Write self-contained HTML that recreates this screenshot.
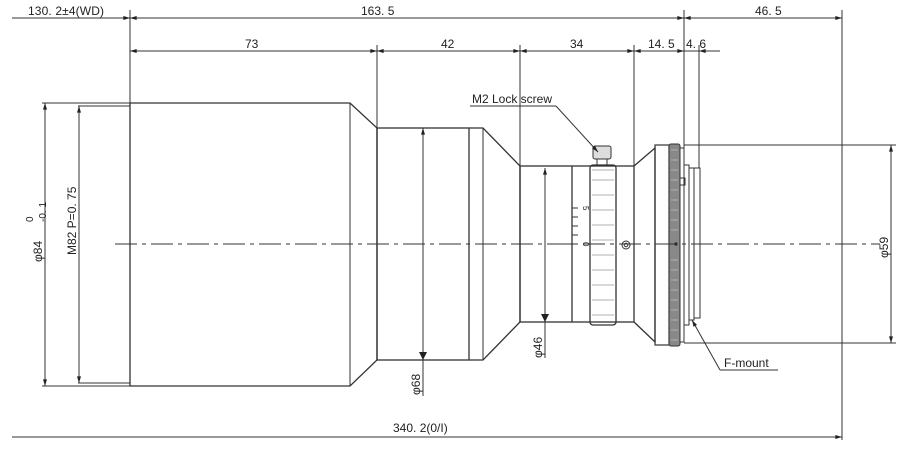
<!DOCTYPE html>
<html><head><meta charset="utf-8"><style>
html,body{margin:0;padding:0;background:#fff}
svg{display:block}
text{font-family:"Liberation Sans","Noto Sans CJK JP",sans-serif;font-size:12px;fill:#222}
</style></head><body>
<svg width="900" height="452" viewBox="0 0 900 452" xmlns="http://www.w3.org/2000/svg">
<defs>
<marker id="a" viewBox="0 0 10 6" refX="10" refY="3" markerWidth="10" markerHeight="4" orient="auto-start-reverse" markerUnits="userSpaceOnUse"><path d="M0,0L10,3L0,6z" fill="#222"/></marker>
</defs>
<g stroke="#333" stroke-width="1" fill="none">
<!-- extension lines -->
<line x1="130" y1="10" x2="130" y2="103"/>
<line x1="684" y1="10" x2="684" y2="150"/>
<line x1="842" y1="10" x2="842" y2="440"/>
<line x1="377" y1="45" x2="377" y2="128"/>
<line x1="520" y1="45" x2="520" y2="166"/>
<line x1="634" y1="45" x2="634" y2="166"/>
<line x1="699" y1="45" x2="699" y2="168"/>
<!-- top dim -->
<line x1="12" y1="18" x2="130" y2="18" marker-end="url(#a)"/>
<line x1="130" y1="18" x2="684" y2="18" marker-start="url(#a)" marker-end="url(#a)"/>
<line x1="684" y1="18" x2="842" y2="18" marker-start="url(#a)" marker-end="url(#a)"/>
<line x1="130" y1="51" x2="377" y2="51" marker-start="url(#a)" marker-end="url(#a)"/>
<line x1="377" y1="51" x2="520" y2="51" marker-start="url(#a)" marker-end="url(#a)"/>
<line x1="520" y1="51" x2="634" y2="51" marker-start="url(#a)" marker-end="url(#a)"/>
<line x1="634" y1="51" x2="684" y2="51" marker-start="url(#a)" marker-end="url(#a)"/>
<line x1="699" y1="51" x2="720" y2="51" marker-start="url(#a)"/>
<line x1="684" y1="51" x2="699" y2="51"/>
<!-- left dims -->
<line x1="42" y1="103" x2="130" y2="103"/>
<line x1="42" y1="386" x2="130" y2="386"/>
<line x1="78" y1="106" x2="130" y2="106"/>
<line x1="78" y1="383" x2="130" y2="383"/>
<line x1="45" y1="103" x2="45" y2="386" marker-start="url(#a)" marker-end="url(#a)"/>
<line x1="79" y1="106" x2="79" y2="383" marker-start="url(#a)" marker-end="url(#a)"/>
<!-- body -->
<path d="M130,103H350L377,128V360L350,386H130Z" stroke-width="1.3"/>
<line x1="350" y1="103" x2="350" y2="386"/>
<rect x="377" y="128" width="92" height="232" stroke-width="1.3"/>
<line x1="469" y1="128" x2="469" y2="360"/>
<path d="M469,128H483L520,166V322L483,360H469" stroke-width="1.3"/>
<line x1="483" y1="128" x2="483" y2="360"/>
<rect x="520" y="166" width="114" height="156" stroke-width="1.3"/>
<line x1="572" y1="166" x2="572" y2="322" stroke-width="1.3"/>
<rect x="590" y="165" width="26" height="160" rx="3" stroke-width="1.3"/>
<g stroke="#999" stroke-width="0.8">
<line x1="592" y1="170" x2="614" y2="170"/><line x1="592" y1="180" x2="614" y2="180"/><line x1="592" y1="195" x2="614" y2="195"/><line x1="592" y1="210" x2="614" y2="210"/><line x1="592" y1="225" x2="614" y2="225"/><line x1="592" y1="240" x2="614" y2="240"/><line x1="592" y1="255" x2="614" y2="255"/><line x1="592" y1="270" x2="614" y2="270"/><line x1="592" y1="285" x2="614" y2="285"/><line x1="592" y1="300" x2="614" y2="300"/><line x1="592" y1="315" x2="614" y2="315"/>
</g>
<!-- scale -->
<g stroke-width="1"><line x1="572" y1="208" x2="578" y2="208"/><line x1="572" y1="217" x2="578" y2="217"/><line x1="572" y1="226" x2="578" y2="226"/><line x1="572" y1="235" x2="578" y2="235"/><line x1="568" y1="244" x2="578" y2="244"/></g>
<!-- screw -->
<rect x="593" y="146" width="18" height="13" rx="2" fill="#ddd"/>
<line x1="597" y1="159" x2="597" y2="165"/><line x1="607" y1="159" x2="607" y2="165"/>
<circle cx="626" cy="245" r="4"/><circle cx="626" cy="245" r="1.8"/>
<!-- rear -->
<path d="M634,166L655,148V342L634,322" stroke-width="1.3"/>
<rect x="655" y="145" width="14" height="200" stroke-width="1.2"/>
<rect x="669" y="144" width="11" height="202" rx="2" fill="#888" stroke="#333"/>
<g stroke="#ccc" stroke-width="0.6">
<line x1="671" y1="150" x2="678" y2="150"/><line x1="671" y1="160" x2="678" y2="160"/><line x1="671" y1="170" x2="678" y2="170"/><line x1="671" y1="180" x2="678" y2="180"/><line x1="671" y1="190" x2="678" y2="190"/><line x1="671" y1="200" x2="678" y2="200"/><line x1="671" y1="210" x2="678" y2="210"/><line x1="671" y1="220" x2="678" y2="220"/><line x1="671" y1="230" x2="678" y2="230"/><line x1="671" y1="260" x2="678" y2="260"/><line x1="671" y1="270" x2="678" y2="270"/><line x1="671" y1="280" x2="678" y2="280"/><line x1="671" y1="290" x2="678" y2="290"/><line x1="671" y1="300" x2="678" y2="300"/><line x1="671" y1="310" x2="678" y2="310"/><line x1="671" y1="320" x2="678" y2="320"/><line x1="671" y1="330" x2="678" y2="330"/><line x1="671" y1="340" x2="678" y2="340"/>
</g>
<rect x="680" y="148" width="4" height="194"/>
<rect x="684" y="165" width="5" height="160"/>
<rect x="680" y="178" width="5" height="7"/>
<rect x="689" y="168" width="5" height="152"/>
<rect x="694" y="168" width="6" height="150"/>
<circle cx="676" cy="244" r="1.2" fill="#000"/>
<!-- right dim -->
<line x1="684" y1="145" x2="896" y2="145"/>
<line x1="684" y1="343" x2="896" y2="343"/>
<line x1="891" y1="145" x2="891" y2="343" marker-start="url(#a)" marker-end="url(#a)"/>
<!-- inner dims -->
<line x1="423" y1="128" x2="423" y2="396" marker-start="url(#a)"/>
<line x1="423" y1="360" x2="423" y2="360"/>
<path d="M419,352L423,360L427,352" fill="#222" stroke="none"/>
<line x1="545" y1="168" x2="545" y2="358" marker-start="url(#a)"/>
<path d="M541,314L545,322L549,314" fill="#222" stroke="none"/>
<!-- bottom dim -->
<line x1="12" y1="437" x2="842" y2="437" marker-end="url(#a)"/>
<!-- leaders -->
<line x1="470" y1="106" x2="556" y2="106"/>
<line x1="556" y1="106" x2="598" y2="152" marker-end="url(#a)"/>
<line x1="778" y1="370" x2="720" y2="370"/>
<line x1="720" y1="370" x2="692" y2="320" marker-end="url(#a)"/>
<!-- centerline -->
<line x1="115" y1="244" x2="880" y2="244" stroke-dasharray="22,5,4,5" stroke-width="0.9"/>
</g>
<text x="28" y="15" textLength="76">130. 2±4(WD)</text>
<text x="361" y="15">163. 5</text>
<text x="755" y="15">46. 5</text>
<text x="245" y="48">73</text>
<text x="441" y="48">42</text>
<text x="570" y="48">34</text>
<text x="648" y="48">14. 5</text>
<text x="686" y="48">4. 6</text>
<text x="472" y="103">M2 Lock screw</text>
<text x="724" y="367">F-mount</text>
<text x="393" y="432">340. 2(0/I)</text>
<text transform="translate(42,262) rotate(-90)">φ84</text>
<text transform="translate(33,222) rotate(-90)" style="font-size:10px">0</text>
<text transform="translate(46,222) rotate(-90)" style="font-size:10px">-0. 1</text>
<text transform="translate(76,255) rotate(-90)">M82  P=0. 75</text>
<text transform="translate(420,395) rotate(-90)">φ68</text>
<text transform="translate(542,358) rotate(-90)">φ46</text>
<text transform="translate(888,258) rotate(-90)">φ59</text>
<text transform="translate(583,206) rotate(90)" style="font-size:8px">5</text>
<text transform="translate(583,242) rotate(90)" style="font-size:8px">0</text>
</svg>
</body></html>
